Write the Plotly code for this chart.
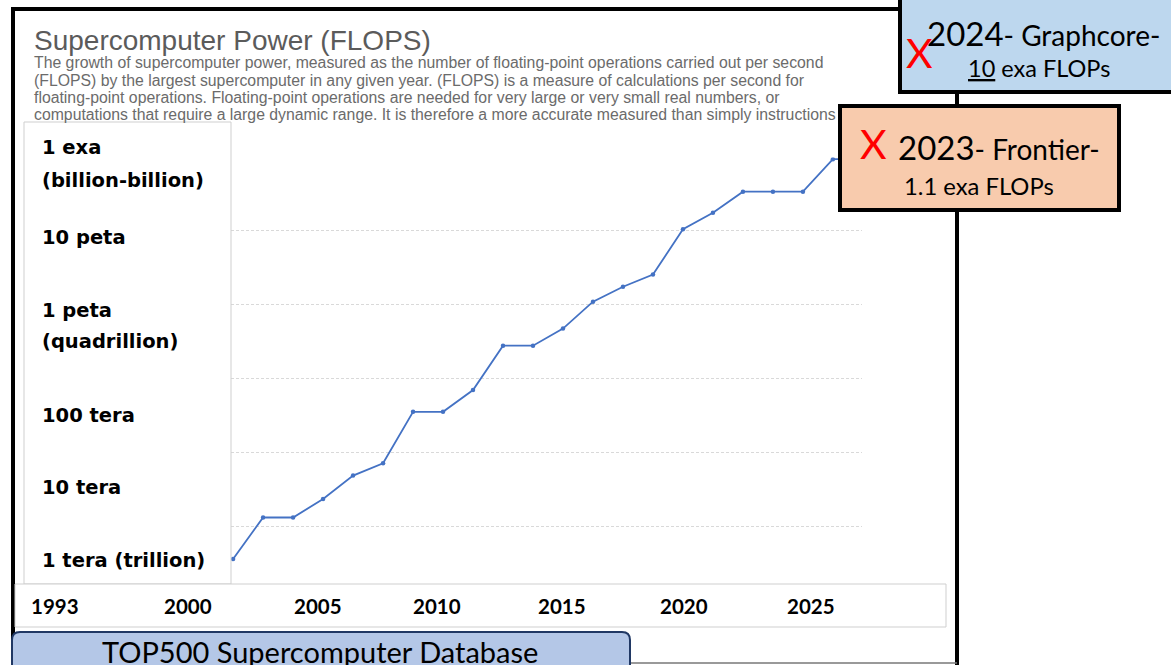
import plotly.graph_objects as go

# ---------------- data ----------------
years = [1996, 1997, 1998, 1999, 2000, 2001, 2002, 2003, 2004, 2005, 2006,
         2007, 2008, 2009, 2010, 2011, 2012, 2013, 2014, 2015, 2016, 2017]
flops = [368.2e9, 1.338e12, 1.338e12, 2.379e12, 4.938e12, 7.226e12,
         35.86e12, 35.86e12, 70.72e12, 280.6e12, 280.6e12, 478.2e12,
         1.105e15, 1.759e15, 2.566e15, 10.51e15, 17.59e15, 33.86e15,
         33.86e15, 33.86e15, 93.01e15, 93.01e15]

y_labels = ["1 exa", "(billion-billion)", "10 peta", "1 peta", "(quadrillion)",
            "100 tera", "10 tera", "1 tera (trillion)"]
x_labels = ["1993", "2000", "2005", "2010", "2015", "2020", "2025"]

title = "Supercomputer Power (FLOPS)"
subtitle_lines = [
    "The growth of supercomputer power, measured as the number of floating-point operations carried out per second",
    "(FLOPS) by the largest supercomputer in any given year. (FLOPS) is a measure of calculations per second for",
    "floating-point operations. Floating-point operations are needed for very large or very small real numbers, or",
    "computations that require a large dynamic range. It is therefore a more accurate measured than simply instructions",
]
footer = "TOP500 Supercomputer Database"

# ---------------- layout helpers (pixel -> paper) ----------------
W, H = 1171, 665
def fx(x):
    return x / W
def fy(y):
    return 1 - y / H

# overlay label positions (pixels)
y_label_pos = [147, 180, 237, 310, 342, 415, 487, 560]
x_label_pos = [55, 188, 318, 437, 562, 684, 811]
sub_pos = [63, 80, 97, 114]

LINE_BLUE = "#4472C4"

fig = go.Figure()
fig.add_trace(go.Scatter(
    x=years, y=flops, mode="lines+markers",
    line=dict(color=LINE_BLUE, width=1.8),
    marker=dict(color=LINE_BLUE, size=4.5),
    showlegend=False, hoverinfo="skip",
))

shapes = []
# big black frame
shapes.append(dict(type="rect", xref="paper", yref="paper",
                   x0=fx(13), x1=fx(957), y0=fy(9), y1=fy(700),
                   line=dict(color="black", width=4), fillcolor="rgba(0,0,0,0)",
                   layer="below"))
# y-label box
shapes.append(dict(type="rect", xref="paper", yref="paper",
                   x0=fx(24), x1=fx(231), y0=fy(122), y1=fy(584),
                   line=dict(color="#cfcfcf", width=1), fillcolor="white",
                   layer="above"))
# x-label box
shapes.append(dict(type="rect", xref="paper", yref="paper",
                   x0=fx(15), x1=fx(946), y0=fy(584), y1=fy(627),
                   line=dict(color="#cfcfcf", width=1), fillcolor="white",
                   layer="above"))
# thin bottom line
shapes.append(dict(type="line", xref="paper", yref="paper",
                   x0=fx(630), x1=fx(957), y0=fy(663), y1=fy(663),
                   line=dict(color="#777777", width=1.5), layer="above"))
# footer rounded box
x0, x1, y0, y1, r = 12, 630, 632, 700, 8
path = (f"M {fx(x0+r)},{fy(y0)} L {fx(x1-r)},{fy(y0)} "
        f"Q {fx(x1)},{fy(y0)} {fx(x1)},{fy(y0+r)} L {fx(x1)},{fy(y1)} "
        f"L {fx(x0)},{fy(y1)} L {fx(x0)},{fy(y0+r)} "
        f"Q {fx(x0)},{fy(y0)} {fx(x0+r)},{fy(y0)} Z")
shapes.append(dict(type="path", xref="paper", yref="paper", path=path,
                   line=dict(color="#203864", width=2), fillcolor="#B4C7E7",
                   layer="above"))
# blue callout box
shapes.append(dict(type="rect", xref="paper", yref="paper",
                   x0=fx(900), x1=fx(1180), y0=fy(-5), y1=fy(92),
                   line=dict(color="black", width=4), fillcolor="#BDD7EE",
                   layer="above"))
# orange callout box
shapes.append(dict(type="rect", xref="paper", yref="paper",
                   x0=fx(840), x1=fx(1119), y0=fy(106), y1=fy(210),
                   line=dict(color="black", width=4), fillcolor="#F8CBAD",
                   layer="above"))

ann = []
ann.append(dict(text=title, x=fx(32), y=fy(41), xanchor="left", yanchor="middle",
                font=dict(family="Liberation Sans, Arial", size=28, color="#5b5b5b")))
for t, yp in zip(subtitle_lines, sub_pos):
    ann.append(dict(text=t, x=fx(32), y=fy(yp), xanchor="left", yanchor="middle",
                    font=dict(family="Liberation Sans, Arial", size=15.8, color="#6b6b6b")))
for t, yp in zip(y_labels, y_label_pos):
    ann.append(dict(text=f"<b>{t}</b>", x=fx(40), y=fy(yp), xanchor="left", yanchor="middle",
                    font=dict(family="DejaVu Sans", size=19.5, color="black")))
for t, xp in zip(x_labels, x_label_pos):
    ann.append(dict(text=f"<b>{t}</b>", x=fx(xp), y=fy(606), xanchor="center", yanchor="middle",
                    font=dict(family="Lato, Open Sans", size=20.5, color="black")))
ann.append(dict(text=footer, x=fx(320), y=fy(651), xanchor="center", yanchor="middle",
                font=dict(family="Lato, Open Sans", size=29, color="black")))
# blue box text
ann.append(dict(text="<span style='font-size:33px'>2024</span>- Graphcore-", x=fx(1043), y=fy(33),
                xanchor="center", yanchor="middle",
                font=dict(family="Lato, Open Sans", size=28, color="black")))
ann.append(dict(text="<span style='text-decoration:underline'>10</span> exa FLOPs", x=fx(1039), y=fy(68),
                xanchor="center", yanchor="middle",
                font=dict(family="Lato, Open Sans", size=23.5, color="black")))
ann.append(dict(text="X", x=fx(919), y=fy(53), xanchor="center", yanchor="middle",
                font=dict(family="Lato, Open Sans", size=41, color="#FF0000")))
# orange box text
ann.append(dict(text="<span style='font-size:33px'>2023</span>- Frontier-", x=fx(999), y=fy(147),
                xanchor="center", yanchor="middle",
                font=dict(family="Lato, Open Sans", size=28, color="black")))
ann.append(dict(text="1.1 exa FLOPs", x=fx(979), y=fy(186), xanchor="center", yanchor="middle",
                font=dict(family="Lato, Open Sans", size=23.8, color="black")))
ann.append(dict(text="X", x=fx(873), y=fy(143), xanchor="center", yanchor="middle",
                font=dict(family="Lato, Open Sans", size=41, color="#FF0000")))
for a in ann:
    a.update(xref="paper", yref="paper", showarrow=False)

fig.update_layout(
    width=W, height=H,
    margin=dict(l=0, r=0, t=0, b=0),
    paper_bgcolor="white", plot_bgcolor="white",
    shapes=shapes, annotations=ann,
    xaxis=dict(domain=[fx(231), fx(862)], range=[1995.93, 2016.97],
               showgrid=False, showticklabels=False, zeroline=False, ticks=""),
    yaxis=dict(domain=[fy(584), fy(157.6)], type="log", range=[11.228, 16.99],
               showgrid=True, gridcolor="#d9d9d9", griddash="3px,2px", gridwidth=1,
               dtick=1, showticklabels=False, zeroline=False, ticks=""),
)

fig.write_html("out.html", config={"displayModeBar": False},
               post_script="document.body.style.margin='0';document.body.style.overflow='hidden';")
